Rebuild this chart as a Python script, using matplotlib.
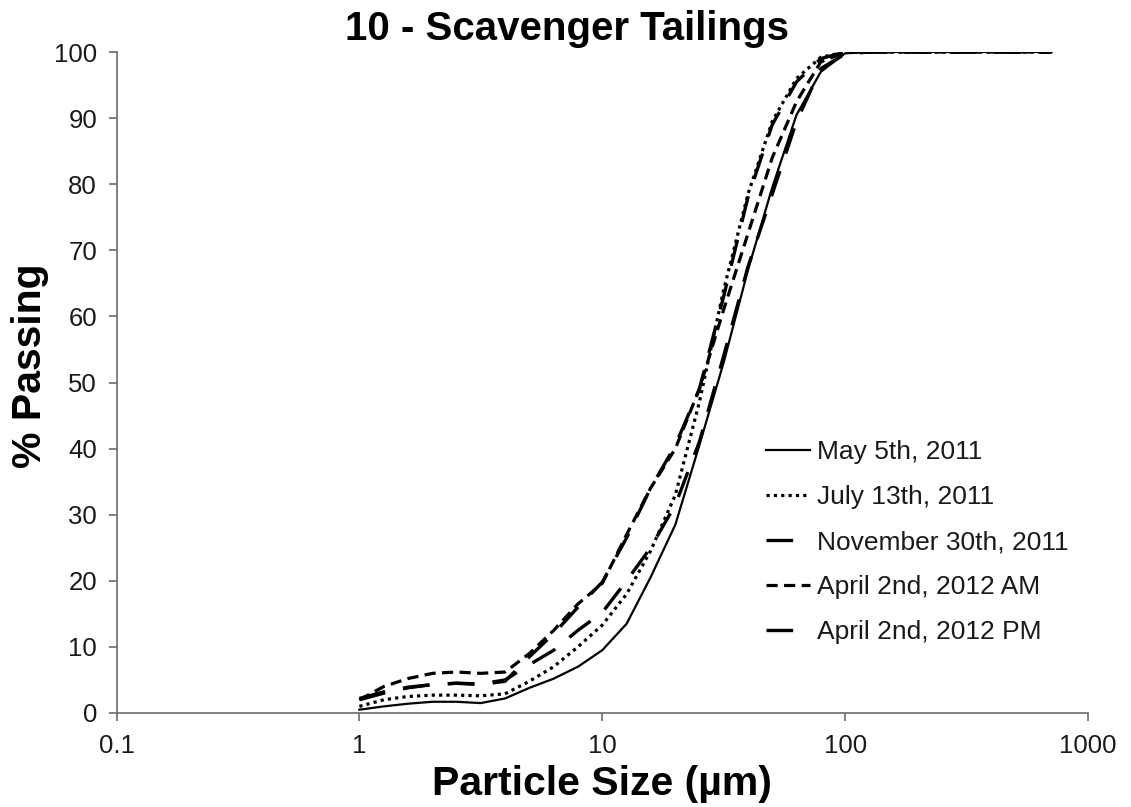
import numpy as np
import matplotlib
matplotlib.use('Agg')
import matplotlib.pyplot as plt
from matplotlib.ticker import FixedLocator, FixedFormatter, NullLocator

plt.rcParams['font.family'] = ['Liberation Sans', 'DejaVu Sans']

# particle sizes (um)
sizes = [1.00, 1.26, 1.58, 2.00, 2.51, 3.16, 3.98, 5.01, 6.31, 7.94,
         10.0, 12.6, 15.8, 20.0, 25.1, 31.6, 39.8, 50.1, 63.1, 79.4,
         100, 126, 158, 200, 251, 316, 398, 501, 631, 708]

may_2011 = [0.5, 1.0, 1.4, 1.7, 1.7, 1.5, 2.2, 3.8, 5.2, 7.0,
            9.5, 13.5, 20.5, 28.5, 40.5, 53.0, 67.0, 79.5, 90.5, 97.0,
            99.8, 100, 100, 100, 100, 100, 100, 100, 100, 100]

july_2011 = [1.0, 2.0, 2.5, 2.7, 2.7, 2.6, 2.9, 4.8, 7.0, 10.0,
             13.3, 18.0, 24.5, 33.0, 47.0, 64.0, 78.5, 89.5, 96.0, 99.2,
             100, 100, 100, 100, 100, 100, 100, 100, 100, 100]

nov_2011 = [2.0, 3.0, 3.8, 4.3, 4.5, 4.4, 5.0, 7.3, 9.5, 12.5,
            15.2, 20.0, 25.0, 31.5, 41.0, 54.0, 67.5, 78.5, 89.5, 97.5,
            99.7, 100, 100, 100, 100, 100, 100, 100, 100, 100]

apr_2012_am = [2.0, 4.0, 5.2, 6.0, 6.2, 6.0, 6.2, 9.0, 12.5, 16.5,
               19.6, 27.0, 34.0, 40.0, 49.0, 61.0, 72.5, 84.0, 92.5, 98.5,
               100, 100, 100, 100, 100, 100, 100, 100, 100, 100]

apr_2012_pm = [2.2, 3.2, 3.9, 4.3, 4.5, 4.3, 4.8, 8.5, 12.0, 16.0,
               19.8, 26.5, 34.0, 40.5, 49.0, 63.0, 78.0, 89.0, 95.5, 99.0,
               100, 100, 100, 100, 100, 100, 100, 100, 100, 100]

fig = plt.figure(figsize=(11.31, 8.07), dpi=100)
ax = fig.add_axes([116.5 / 1131, 1 - 713 / 807, (1088 - 116.5) / 1131, (713 - 52) / 807])

long_dash = (0, (8, 5.5))
ax.plot(sizes, may_2011, color='black', lw=1.6, ls='-', label='May 5th, 2011')
ax.plot(sizes, july_2011, color='black', lw=2.3, ls=(0, (1, 1.3)), label='July 13th, 2011')
ax.plot(sizes, nov_2011, color='black', lw=2.4, ls=long_dash, label='November 30th, 2011')
ax.plot(sizes, apr_2012_am, color='black', lw=2.3, ls=(0, (3.5, 2)), label='April 2nd, 2012 AM')
ax.plot(sizes, apr_2012_pm, color='black', lw=2.4, ls=long_dash, label='April 2nd, 2012 PM')

ax.set_xscale('log')
ax.set_xlim(0.1, 1000)
ax.set_ylim(0, 100)

xticks = [0.1, 1, 10, 100, 1000]
ax.xaxis.set_major_locator(FixedLocator(xticks))
ax.xaxis.set_major_formatter(FixedFormatter(['0.1', '1', '10', '100', '1000']))
ax.xaxis.set_minor_locator(NullLocator())
ax.set_yticks(np.arange(0, 101, 10))

spine_color = '#6b6b6b'
for side in ['top', 'right']:
    ax.spines[side].set_visible(False)
for side in ['left', 'bottom']:
    ax.spines[side].set_color(spine_color)
    ax.spines[side].set_linewidth(1.2)
ax.tick_params(axis='both', direction='out', length=6, width=1.2, color=spine_color,
               labelsize=18.5, labelcolor='#1a1a1a')
ax.tick_params(axis='y', pad=8)
ax.tick_params(axis='x', pad=9)

fig.text(567 / 1131, 1 - 40 / 807, '10 - Scavenger Tailings', ha='center', va='baseline',
         fontsize=29, fontweight='bold')
fig.text(602 / 1131, 1 - 795 / 807, 'Particle Size (µm)', ha='center', va='baseline',
         fontsize=29.5, fontweight='bold')
fig.text(30 / 1131, 1 - 366 / 807, '% Passing', ha='center', va='center', rotation=90,
         fontsize=29.5, fontweight='bold')

ax.legend(loc='upper left', bbox_to_anchor=(766 / 1131, 1 - 440 / 807),
          bbox_transform=fig.transFigure, frameon=False, fontsize=19,
          borderpad=0, borderaxespad=0, handlelength=1.67, handletextpad=0.25,
          labelspacing=0.8, labelcolor='#1a1a1a')

fig.savefig('out.png', dpi=100, facecolor='white')
